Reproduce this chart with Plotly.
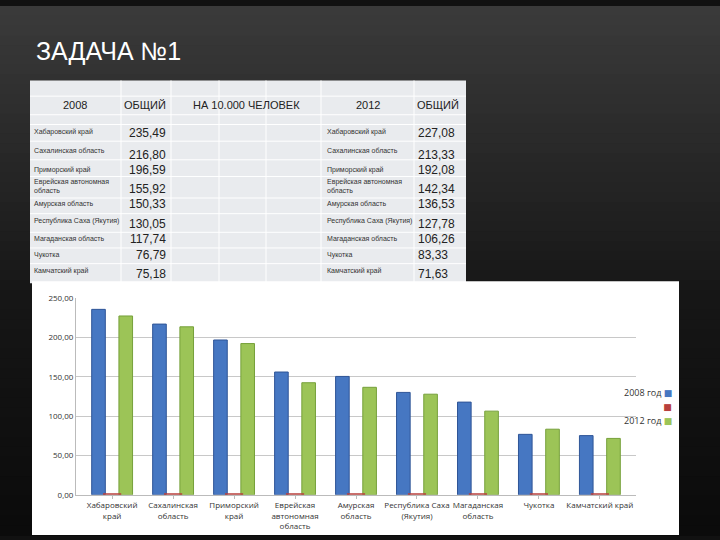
import plotly.graph_objects as go

# ---------------- data ----------------
categories = ["Хабаровский<br>край", "Сахалинская<br>область", "Приморский<br>край",
              "Еврейская<br>автономная<br>область", "Амурская<br>область",
              "Республика Саха<br>(Якутия)", "Магаданская<br>область", "Чукотка",
              "Камчатский край"]
table_names = ["Хабаровский край", "Сахалинская область", "Приморский край",
               "Еврейская автономная<br>область", "Амурская область",
               "Республика Саха (Якутия)", "Магаданская область", "Чукотка",
               "Камчатский край"]
values_2008 = [235.49, 216.80, 196.59, 155.92, 150.33, 130.05, 117.74, 76.79, 75.18]
values_2012 = [227.08, 213.33, 192.08, 142.34, 136.53, 127.78, 106.26, 83.33, 71.63]
values_3 = [0, 0, 0, 0, 0, 0, 0, 0, 0]
series_names = ["2008 год", "", "2012 год"]
header_labels = ["2008", "ОБЩИЙ", "НА 10.000 ЧЕЛОВЕК", "2012", "ОБЩИЙ"]
y_ticks = [0, 50, 100, 150, 200, 250]

W, H = 720, 540
def px(x): return x / W
def py(y): return 1 - y / H
def fmt(v): return f"{v:.2f}".replace(".", ",")

BLUE = "#4677c2"
RED = "#b8403d"
GREEN = "#9cc457"

shapes = []
annotations = []

# background gradient (dark slide)
n = 54
def lerp(a, b, t): return int(round(a + (b - a) * t))
for i in range(n):
    t = i / (n - 1)
    if t < 0.55:
        c = lerp(0x3a, 0x16, t / 0.55)
    else:
        c = lerp(0x16, 0x0b, (t - 0.55) / 0.45)
    col = f"rgb({c},{c},{c})"
    shapes.append(dict(type="rect", xref="paper", yref="paper", x0=0, x1=1,
                       y0=py((i + 1) * H / n) - 0.002, y1=py(i * H / n),
                       fillcolor=col, line=dict(width=0), layer="below"))

# title
annotations.append(dict(text="ЗАДАЧА №1", x=px(34), y=py(46), xref="paper", yref="paper",
                        xanchor="left", yanchor="middle", showarrow=False,
                        font=dict(family="Liberation Sans Narrow, Liberation Sans, Arial",
                                  size=25, color="white")))

# ---------------- table ----------------
col_x = [30, 121, 171, 219, 266, 321, 414, 466]
row_y = [76, 92, 111, 121, 138, 157, 174, 196, 212, 231, 247, 263, 283]
shapes.append(dict(type="rect", xref="paper", yref="paper", x0=px(30), x1=px(466),
                   y0=py(283), y1=py(76), fillcolor="#e9ebee",
                   line=dict(width=0), layer="below"))
for x in col_x[1:-1]:
    shapes.append(dict(type="line", xref="paper", yref="paper", x0=px(x), x1=px(x),
                       y0=py(283), y1=py(76), line=dict(color="white", width=1), layer="below"))
for y in row_y[1:-1]:
    shapes.append(dict(type="line", xref="paper", yref="paper", x0=px(30), x1=px(466),
                       y0=py(y), y1=py(y), line=dict(color="white", width=1), layer="below"))

TF = "Liberation Sans Narrow, Liberation Sans, Arial"
hdr_pos = [(75, "center"), (122, "left"), (246, "center"), (368, "center"), (415, "left")]
for lab, (x, anc) in zip(header_labels, hdr_pos):
    annotations.append(dict(text=lab, x=px(x), y=py(101), xref="paper", yref="paper",
                            xanchor=anc, yanchor="middle", showarrow=False,
                            font=dict(family=TF, size=11, color="#222")))

name_y = [129, 148, 167, 184, 202, 219, 238, 254, 270]
val_y = [130, 152, 167, 187, 202, 223, 238, 254, 274]
for i in range(len(table_names)):
    for nx in (32, 325):
        annotations.append(dict(text=table_names[i], x=px(nx), y=py(name_y[i]),
                                xref="paper", yref="paper", xanchor="left", yanchor="middle",
                                showarrow=False, align="left",
                                font=dict(family=TF, size=7, color="#333")))
    annotations.append(dict(text=fmt(values_2008[i]), x=px(168), y=py(val_y[i]),
                            xref="paper", yref="paper", xanchor="right", yanchor="middle",
                            showarrow=False, font=dict(family=TF, size=12, color="#222")))
    annotations.append(dict(text=fmt(values_2012[i]), x=px(416), y=py(val_y[i]),
                            xref="paper", yref="paper", xanchor="left", yanchor="middle",
                            showarrow=False, font=dict(family=TF, size=12, color="#222")))

# ---------------- chart ----------------
shapes.append(dict(type="rect", xref="paper", yref="paper", x0=px(32), x1=px(679),
                   y0=0, y1=py(281), fillcolor="white", line=dict(width=0), layer="below"))

fig = go.Figure()
fig.add_trace(go.Bar(x=categories, y=values_2008, name=series_names[0],
                     marker=dict(color=BLUE, line=dict(color="#2f5597", width=1))))
fig.add_trace(go.Bar(x=categories, y=values_3, name=series_names[1],
                     marker=dict(color=RED), showlegend=False))
fig.add_trace(go.Bar(x=categories, y=values_2012, name=series_names[2],
                     marker=dict(color=GREEN, line=dict(color="#76a03a", width=1))))
fig.add_trace(go.Scatter(x=categories, y=values_3, mode="markers", showlegend=False,
                         marker=dict(symbol="line-ew", size=13,
                                     line=dict(color=RED, width=3))))

# legend (Excel style: text then marker on the right)
leg_y = [395, 409, 423]
leg_colors = [BLUE, RED, GREEN]
for name, y, c in zip(series_names, leg_y, leg_colors):
    annotations.append(dict(text=f"{name} <span style='color:{c}'>■</span>",
                            x=px(674), y=py(y), xref="paper", yref="paper",
                            xanchor="right", yanchor="middle", showarrow=False,
                            font=dict(family="Open Sans, DejaVu Sans", size=9, color="#333")))

fig.update_layout(
    width=W, height=H, margin=dict(l=0, r=0, t=0, b=0),
    paper_bgcolor="#111", plot_bgcolor="rgba(0,0,0,0)",
    separators=", ",
    barmode="group", bargap=0.33, bargroupgap=0,
    showlegend=False,
    shapes=shapes, annotations=annotations,
    xaxis=dict(domain=[px(76), px(636)], anchor="y", showgrid=False,
               tickfont=dict(family="Open Sans, DejaVu Sans", size=8, color="#333"),
               showline=True, linecolor="#bbb", ticks="outside", tickcolor="#bbb",
               ticklen=3, tickangle=0),
    yaxis=dict(domain=[py(499), py(298)], range=[0, 250], tickvals=y_ticks,
               tickformat=".2f", showgrid=True, gridcolor="#c8c8c8",
               showline=True, linecolor="#bbb", zeroline=False,
               tickfont=dict(family="Open Sans, DejaVu Sans", size=8, color="#333")),
)

fig.write_html("out.html")
